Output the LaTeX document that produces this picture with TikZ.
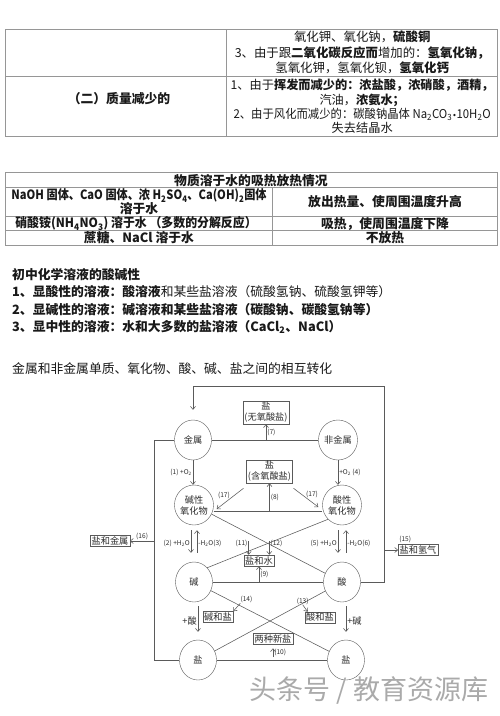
\documentclass[tikz,border=0pt]{standalone}
\usepackage{fontspec}
\setmainfont{Noto Sans CJK SC}
\newfontfamily\dotfont{DejaVu Sans}
\usetikzlibrary{arrows.meta,shapes.geometric,calc}
\definecolor{ink}{RGB}{25,25,25}
\definecolor{rulegray}{RGB}{150,150,150}
\definecolor{wiregray}{RGB}{90,90,90}
\definecolor{diagtext}{RGB}{45,45,45}
\definecolor{wmgray}{RGB}{170,170,170}
\newcommand{\tabfont}{\fontsize{12.8}{15}\selectfont}
\newcommand{\diafont}{\fontsize{9.2}{11}\selectfont}
\newcommand{\labfont}{\fontsize{6.6}{7.5}\selectfont}
\newcommand{\squeeze}[2]{\scalebox{#1}[1]{#2}}

\begin{document}
\begin{tikzpicture}[x=1pt,y=-1pt,
  cell/.style={font=\tabfont, align=center, inner sep=0pt, text=ink},
  para/.style={font=\tabfont, anchor=west, inner sep=0pt, text=ink},
  grid/.style={draw=rulegray, line width=0.8pt},
  oval/.style={draw=wiregray, ellipse, minimum width=37pt, minimum height=40pt,
    inner sep=0pt, font=\diafont, text=diagtext, align=center},
  rbox/.style={draw=wiregray, inner sep=1.3pt, font=\diafont, text=diagtext, align=center},
  wire/.style={draw=wiregray, line width=0.55pt},
  arr/.style={wire, -{Straight Barb[length=3pt,width=5pt]}},
  lab/.style={font=\labfont, text=diagtext, inner sep=1pt}
]
\useasboundingbox[fill=white] (0,0) rectangle (500,716);

% First table, end of the mass change rows.
\draw[grid] (5,29.3) rectangle (497.7,136);
\draw[grid] (5,76) -- (497.7,76);
\draw[grid] (226.7,29.3) -- (226.7,136);
\node[cell, font=\fontsize{12.4}{15.5}\selectfont] (gainrow) at (362.2,52.6) {
  氧化钾、氧化钠，\textbf{硫酸铜}\\
  3、由于跟\textbf{二氧化碳反应而}增加的：\textbf{氢氧化钠，}\\
  氢氧化钾，氢氧化钡，\textbf{氢氧化钙}
};
\node[cell] (losshead) at (119,99) {\textbf{（二）质量减少的}};
\node[cell, font=\fontsize{12.2}{14.2}\selectfont] (lossrow) at (362.2,106.4) {
  1、由于\textbf{挥发而减少的：浓盐酸，浓硝酸，酒精，}\\
  汽油，\textbf{浓氨水；}\\
  \squeeze{0.93}{2、由于风化而减少的：碳酸钠晶体 Na\textsubscript{2}CO\textsubscript{3}{\dotfont\fontsize{8}{8}\selectfont •}10H\textsubscript{2}O}\\
  失去结晶水
};

% Second table, heat of dissolving.
\draw[grid] (5,172.7) rectangle (497.7,245);
\foreach \y in {187.7,216.7,230.3}
  \draw[grid] (5,\y) -- (497.7,\y);
\draw[grid] (272.7,187.7) -- (272.7,245);
\node[cell, font=\tabfont\bfseries] (heathead) at (251,180.5) {物质溶于水的吸热放热情况};
\node[cell, font=\fontsize{12.8}{14.3}\selectfont\bfseries] (hotleft) at (139,202) {
  \squeeze{0.87}{NaOH 固体、CaO 固体、浓 H\textsubscript{2}SO\textsubscript{4}、Ca(OH)\textsubscript{2}固体}\\
  溶于水
};
\node[cell, font=\tabfont\bfseries] (hotright) at (385,202) {放出热量、使周围温度升高};
\node[cell, font=\tabfont\bfseries] (coldleft) at (136,223.5) {\squeeze{0.93}{硝酸铵(NH\textsubscript{4}NO\textsubscript{3}) 溶于水 （多数的分解反应）}};
\node[cell, font=\tabfont\bfseries] (coldright) at (385,223.5) {吸热，使周围温度下降};
\node[cell, font=\tabfont\bfseries] (flatleft) at (139,238) {蔗糖、NaCl 溶于水};
\node[cell, font=\tabfont\bfseries] (flatright) at (385,238) {不放热};

% Acidity of solutions.
\node[para] (acidtitle) at (12,275) {\textbf{初中化学溶液的酸碱性}};
\node[para] (acidline) at (12,291.7) {\textbf{1、显酸性的溶液：酸溶液}和某些盐溶液（硫酸氢钠、硫酸氢钾等）};
\node[para] (baseline) at (12,310) {\textbf{2、显碱性的溶液：碱溶液和某些盐溶液（碳酸钠、碳酸氢钠等）}};
\node[para] (neutline) at (12,326.7) {\textbf{3、显中性的溶液：水和大多数的盐溶液（CaCl\textsubscript{2}、NaCl）}};
\node[para] (convtitle) at (12,368.3) {金属和非金属单质、氧化物、酸、碱、盐之间的相互转化};

% Conversion diagram.
\node[oval] (jinshu) at (193,440) {金属};
\node[oval] (feijinshu) at (338,440) {非金属};
\node[rbox] (wuyang) at (266,412.5) {盐\\(无氧酸盐)};
\node[rbox] (hanyang) at (269.5,471.5) {盐\\(含氧酸盐)};
\node[oval] (jianxing) at (194,505) {碱性\\氧化物};
\node[oval] (suanxing) at (342,505) {酸性\\氧化物};
\node[oval] (jian) at (194,582) {碱};
\node[oval] (suan) at (342,582) {酸};
\node[oval] (yanL) at (198,660) {盐};
\node[oval] (yanR) at (346,660) {盐};
\node[rbox] (yanshui) at (259,560.5) {盐和水};
\node[rbox] (jianyan) at (218,617) {碱和盐};
\node[rbox] (suanyan) at (320,617.5) {酸和盐};
\node[rbox] (xinyan) at (273,638.5) {两种新盐};
\node[rbox] (yanjin) at (110,541) {盐和金属};
\node[rbox] (yanqing) at (418,550) {盐和氢气};

% Elements.
\draw[wire] (jinshu.east) -- (feijinshu.west);
\draw[arr] (wuyang.south |- jinshu.east) -- node[lab, right] {(7)} (wuyang.south);
\draw[arr] (jinshu.south) -- node[lab, left] {(1) +O\textsubscript{2}} (jinshu.south |- jianxing.north);
\draw[arr] (feijinshu.south) -- node[lab, right] {+O\textsubscript{2} (4)} (feijinshu.south |- suanxing.north);

% Oxides.
\draw[arr] ([shift={(-3,5)}]hanyang.south west) -- node[lab, above left=-1pt] {(17)} ([shift={(3,4)}]jianxing.east);
\draw[arr] ([shift={(1,5)}]hanyang.south east) -- node[lab, above right=-1pt] {(17)} ([shift={(-4,2)}]suanxing.west);
\coordinate (base8) at ([yshift=-6pt]jianxing.east);
\draw[wire] (base8) -- ([yshift=-6pt]suanxing.west);
\draw[arr] (hanyang.south |- base8) -- node[lab, right] {(8)} (hanyang.south);

% Water in and out.
\draw[arr, shorten <=5pt, shorten >=9pt] ([xshift=-3pt]jianxing.south) -- node[lab, left] {(2) +H\textsubscript{2}O} ([xshift=-3pt]jian.north);
\draw[arr, shorten <=9pt, shorten >=5pt] ([xshift=3pt]jian.north) -- node[lab, right] {-H\textsubscript{2}O(3)} ([xshift=3pt]jianxing.south);
\draw[arr, shorten <=5pt, shorten >=9pt] ([xshift=-4pt]suanxing.south) -- node[lab, left] {(5) +H\textsubscript{2}O} ([xshift=-4pt]suan.north);
\draw[arr, shorten <=9pt, shorten >=5pt] ([xshift=4pt]suan.north) -- node[lab, right] {-H\textsubscript{2}O(6)} ([xshift=4pt]suanxing.south);

% Crossing lines.
\draw[wire] (jianxing) -- (suan);
\draw[wire] (jian.north east) -- (suanxing.south west);
\draw[wire] (jian) -- (yanR);
\draw[wire] (suan) -- (yanL);
\draw[arr] ([xshift=5pt,yshift=14pt]yanshui.north west) -- node[lab, pos=0.2, left] {(11)} ([xshift=5pt]yanshui.north west);
\draw[arr] ([xshift=-5pt,yshift=14pt]yanshui.north east) -- node[lab, pos=0.2, right] {(12)} ([xshift=-5pt]yanshui.north east);
\draw[wire] (jian.east) -- (suan.west);
\draw[arr] (yanshui.south |- jian.east) -- node[lab, right] {(9)} (yanshui.south);
\draw[arr] ([shift={(7,-8)}]jianyan.north east) -- node[lab, pos=0, above right=-1pt] {(14)} (jianyan.north east);
\draw[arr] ([shift={(-2,-7)}]suanyan.north west) -- node[lab, pos=0, above=-1pt] {(13)} ([xshift=3pt]suanyan.north west);

% Salts.
\draw[arr, shorten <=4pt, shorten >=8pt] (yanL.north |- jian.south) -- node[lab, font=\diafont, left] {+酸} (yanL.north);
\draw[arr, shorten <=4pt, shorten >=8pt] (yanR.north |- suan.south) -- node[lab, font=\diafont, right] {+碱} (yanR.north);
\draw[wire] (yanL.east) -- (yanR.west);
\draw[arr, shorten <=3pt, shorten >=4pt] (xinyan.south |- yanL.east) -- node[lab, right] {(10)} (xinyan.south);

% Outer rails.
\coordinate (leftrail) at ([xshift=-20pt]jinshu.west);
\draw[wire] (jinshu.west) -- (leftrail) |- (yanL.west);
\draw[arr] (leftrail |- yanjin.east) -- node[lab, above] {(16)} (yanjin.east);
\coordinate (rightrail) at ([xshift=23.5pt]suan.east);
\coordinate (toprail) at ([yshift=34pt]jinshu.north);
\draw[arr, shorten >=10pt] (suan.east) -- (rightrail) |- (toprail) -- (jinshu.north);
\draw[arr] (rightrail |- yanqing.west) -- (yanqing.west);
\node[lab, anchor=south west] (l15) at (yanqing.north west) {(15)};

% Watermark.
\node[font=\fontsize{27}{27}\selectfont, text=wmgray] (wm) at (369,690) {头条号 / 教育资源库};
\end{tikzpicture}
\end{document}
